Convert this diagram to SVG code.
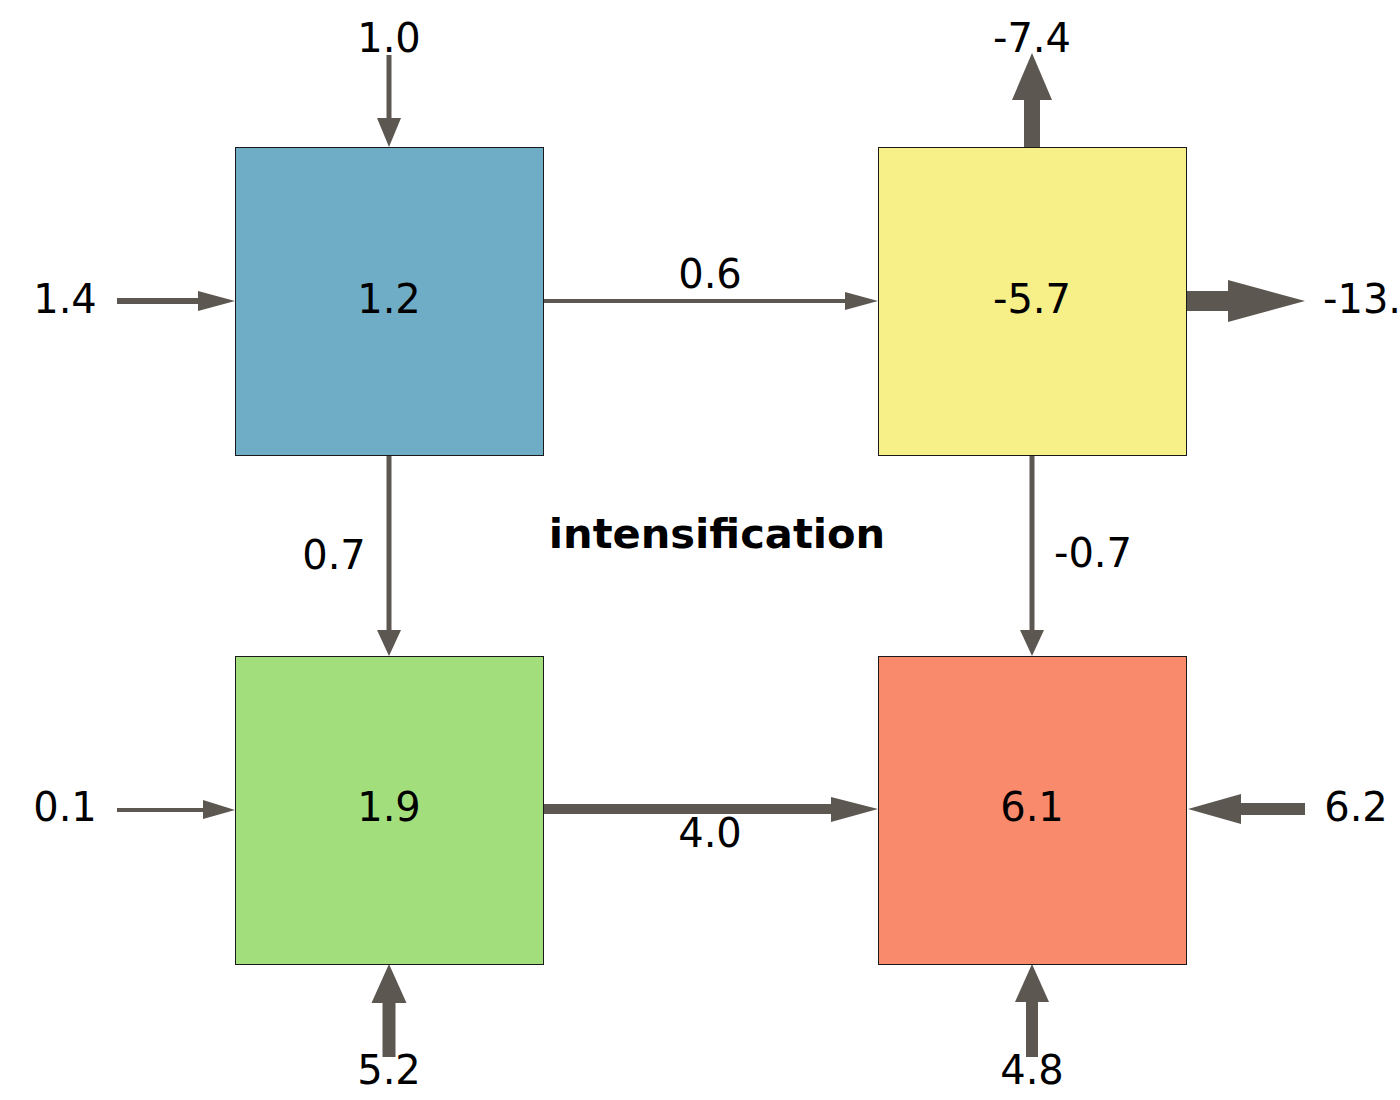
<svg xmlns="http://www.w3.org/2000/svg" width="1400" height="1100" viewBox="0 0 1400 1100">
<style>
.box{stroke:#1a1a1a;stroke-width:1}
.lbl{font-family:"DejaVu Sans",sans-serif;font-size:40px;fill:#000;text-anchor:middle}
.title{font-family:"DejaVu Sans",sans-serif;font-size:41.6px;font-weight:bold;fill:#000;text-anchor:middle}
.arr{fill:#5c5750}
</style>
<rect width="1400" height="1100" fill="#fff"/>
<g id="connectors">
<polygon class="arr" points="386.5,55 391.5,55 391.5,118 401,118 389,147 377,118 386.5,118"/>
<polygon class="arr" points="1024,147 1040,147 1040,100 1052,100 1032,53 1012,100 1024,100"/>
<polygon class="arr" points="1186,291 1228,291 1228,280 1305,301 1228,322 1228,311 1186,311"/>
<polygon class="arr" points="117,298 198,298 198,291 235,301 198,311 198,304 117,304"/>
<polygon class="arr" points="543,299 845,299 845,292 878,301 845,310 845,303 543,303"/>
<polygon class="arr" points="117,808 203,808 203,800 235,810 203,819 203,812 117,812"/>
<polygon class="arr" points="543,804 831,804 831,797 878,809 831,822 831,814 543,814"/>
<polygon class="arr" points="1305,803 1241,803 1241,794 1188,809 1241,824 1241,815 1305,815"/>
<polygon class="arr" points="382.5,1057 395.5,1057 395.5,1003 406.5,1003 389,964 371.5,1003 382.5,1003"/>
<polygon class="arr" points="1026,1057 1038,1057 1038,1002 1049,1002 1032,964 1015,1002 1026,1002"/>
<polygon class="arr" points="386.5,455 391.5,455 391.5,630 401,630 389,656 377,630 386.5,630"/>
<polygon class="arr" points="1029.5,455 1034.5,455 1034.5,630 1044,630 1032,656 1020,630 1029.5,630"/>
</g>
<g id="node-tl"><rect class="box" x="235.5" y="147.5" width="308" height="308" fill="#6fadc6"/><text class="lbl" x="389" y="313">1.2</text></g>
<g id="node-tr"><rect class="box" x="878.5" y="147.5" width="308" height="308" fill="#f7ef87"/><text class="lbl" x="1032" y="313">-5.7</text></g>
<g id="node-bl"><rect class="box" x="235.5" y="656.5" width="308" height="308" fill="#a2de7c"/><text class="lbl" x="389" y="821">1.9</text></g>
<g id="node-br"><rect class="box" x="878.5" y="656.5" width="308" height="308" fill="#f98a6b"/><text class="lbl" x="1032" y="821">6.1</text></g>
<g id="labels">
<text class="lbl" x="389" y="52">1.0</text>
<text class="lbl" x="1032" y="52">-7.4</text>
<text class="lbl" x="1323" y="313" style="text-anchor:start">-13.</text>
<text class="lbl" x="65" y="313">1.4</text>
<text class="lbl" x="710" y="288">0.6</text>
<text class="lbl" x="65" y="821">0.1</text>
<text class="lbl" x="710" y="847">4.0</text>
<text class="lbl" x="1356" y="821">6.2</text>
<text class="lbl" x="389" y="1084">5.2</text>
<text class="lbl" x="1032" y="1084">4.8</text>
<text class="lbl" x="334" y="569">0.7</text>
<text class="lbl" x="1093" y="567">-0.7</text>
<text class="title" x="717" y="548">intensification</text>
</g>
</svg>
